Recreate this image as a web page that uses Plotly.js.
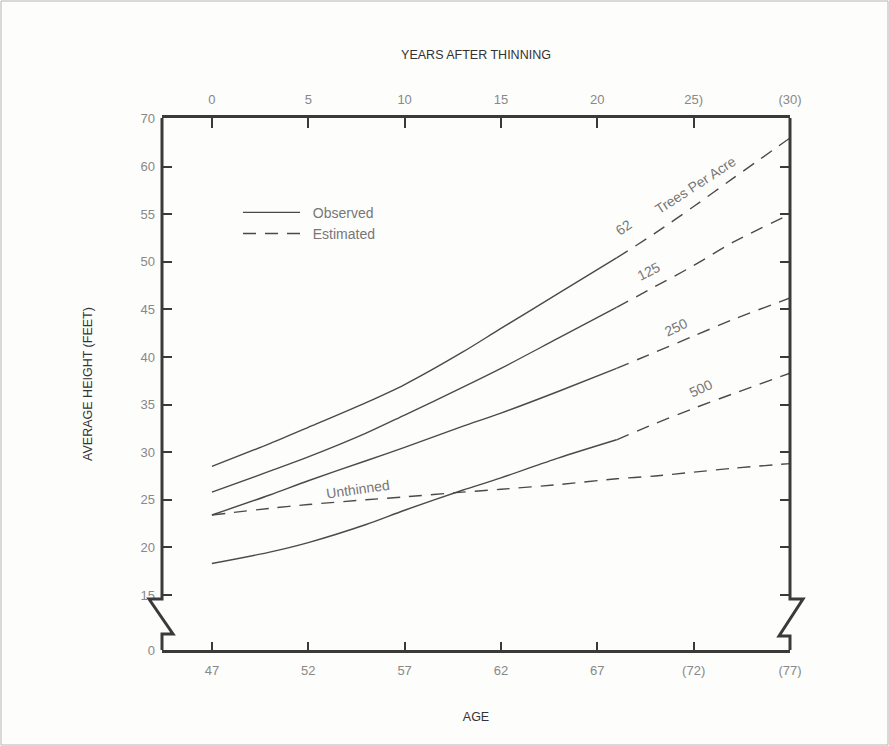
<!DOCTYPE html>
<html>
<head>
<meta charset="utf-8">
<script src="https://cdn.plot.ly/plotly-3.0.1.min.js"></script>
<style>html,body{margin:0;padding:0;background:#fdfdfb;}#chart{width:889px;height:746px;}</style>
</head>
<body>
<div id="chart"></div>
<script>
// Ages (years) for the observed and estimated parts of each curve
const agesObs = [47, 50, 52, 55, 57, 60, 62, 65, 68];
const agesEst = [68, 70, 72, 74, 77];
const agesUnthinned = [47, 50, 52, 55, 57, 60, 62, 65, 68, 70, 72, 74, 77];

// Average height (feet) by trees per acre
const tpa62Obs  = [28.5, 30.9, 32.6, 35.2, 37.1, 40.5, 43.0, 46.7, 50.4];
const tpa62Est  = [50.4, 53.0, 55.8, 58.7, 63.0];
const tpa125Obs = [25.8, 28.0, 29.5, 32.0, 33.9, 36.8, 38.8, 42.0, 45.2];
const tpa125Est = [45.2, 47.4, 49.6, 52.0, 55.0];
const tpa250Obs = [23.4, 25.5, 27.0, 29.1, 30.5, 32.7, 34.1, 36.4, 38.8];
const tpa250Est = [38.8, 40.5, 42.2, 43.9, 46.2];
const tpa500Obs = [18.3, 19.5, 20.5, 22.4, 23.9, 26.0, 27.3, 29.4, 31.3];
const tpa500Est = [31.3, 33.0, 34.6, 36.1, 38.3];
const unthinned = [23.4, 24.1, 24.5, 25.0, 25.3, 25.8, 26.1, 26.6, 27.2, 27.5, 27.9, 28.3, 28.8];

// Tick labels
const ageTicks = [47, 52, 57, 62, 67, 72, 77];
const ageTickText = ['47', '52', '57', '62', '67', '(72)', '(77)'];
const yearTicks = [0, 5, 10, 15, 20, 25, 30];
const yearTickText = ['0', '5', '10', '15', '20', '25)', '(30)'];
const heightTicks = [9.22, 15, 20, 25, 30, 35, 40, 45, 50, 55, 60, 65.1];
const heightTickText = ['0', '15', '20', '25', '30', '35', '40', '45', '50', '55', '60', '70'];

const lineCol = '#4a4a4a';
const obs = {color: lineCol, width: 1.4, shape: 'spline', smoothing: 0.8};
const est = {color: lineCol, width: 1.4, dash: '13px,9px', shape: 'spline', smoothing: 0.8};

function tr(x, y, line, extra) {
  return Object.assign({x: x, y: y, type: 'scatter', mode: 'lines', line: line,
    hoverinfo: 'skip', showlegend: false}, extra || {});
}

const traces = [
  tr(agesObs, tpa62Obs, obs), tr(agesEst, tpa62Est, est),
  tr(agesObs, tpa125Obs, obs), tr(agesEst, tpa125Est, est),
  tr(agesObs, tpa250Obs, obs), tr(agesEst, tpa250Est, est),
  tr(agesObs, tpa500Obs, obs), tr(agesEst, tpa500Est, est),
  tr(agesUnthinned, unthinned, est),
  tr([null], [null], {color: lineCol, width: 1.4}, {name: '\u00a0\u00a0Observed', showlegend: true}),
  tr([null], [null], {color: lineCol, width: 1.4, dash: '13px,9px'}, {name: '\u00a0\u00a0Estimated', showlegend: true}),
  tr([yearTicks[0], yearTicks[yearTicks.length - 1]], [null, null], obs, {xaxis: 'x2'})
];

const txtCol = '#777';
const tickFont = {family: 'Liberation Sans, Arial, sans-serif', size: 13, color: '#888'};
const titleFont = {family: 'Liberation Sans, Arial, sans-serif', size: 12.5, color: '#333'};
const labFont = {family: 'Liberation Sans, Arial, sans-serif', size: 14, color: txtCol};
const frameCol = '#3a3a3a';

// paper coordinate helpers (plot area 628 x 532 px)
const px = v => v / 628, py = v => v / 532;

const layout = {
  width: 889, height: 746,
  margin: {l: 162, r: 99, t: 118, b: 96},
  paper_bgcolor: '#fdfdfb', plot_bgcolor: '#fdfdfb',
  font: {family: 'Liberation Sans, Arial, sans-serif'},
  xaxis: {
    range: [44.41, 77], tickvals: ageTicks, ticktext: ageTickText,
    showgrid: false, zeroline: false, showline: true, linecolor: frameCol, linewidth: 3,
    ticks: 'inside', ticklen: 8, tickwidth: 2, tickcolor: frameCol,
    tickfont: tickFont, ticklabelstandoff: 6,
    title: {text: 'AGE', font: titleFont, standoff: 36}
  },
  xaxis2: {
    overlaying: 'x', side: 'top', anchor: 'y',
    range: [-2.59, 30], tickvals: yearTicks, ticktext: yearTickText,
    showgrid: false, zeroline: false, showline: true, linecolor: frameCol, linewidth: 3,
    ticks: 'inside', ticklen: 10, tickwidth: 2, tickcolor: frameCol,
    tickfont: tickFont, ticklabelstandoff: 6,
    title: {text: 'YEARS AFTER THINNING', font: titleFont, standoff: 30}
  },
  yaxis: {
    range: [9.22, 65.1], tickvals: heightTicks, ticktext: heightTickText,
    showgrid: false, zeroline: false, showline: false,
    ticks: 'inside', ticklen: 10, tickwidth: 2, tickcolor: frameCol, mirror: 'ticks',
    tickfont: tickFont, ticklabelstandoff: 6,
    title: {text: 'AVERAGE HEIGHT (FEET)', font: titleFont, standoff: 45}
  },
  showlegend: true,
  legend: {
    x: 0.121, y: 0.852, xanchor: 'left', yanchor: 'top',
    bgcolor: 'rgba(0,0,0,0)', borderwidth: 0,
    font: {family: 'Liberation Sans, Arial, sans-serif', size: 14, color: txtCol},
    itemwidth: 57, tracegroupgap: 0
  },
  shapes: [
    // left frame with axis break
    {type: 'path', xref: 'paper', yref: 'paper', line: {color: frameCol, width: 3},
     path: `M 0 1 L 0 ${py(51)} L ${px(-13)} ${py(51)} L ${px(11)} ${py(16)} L 0 ${py(16)} L 0 0`},
    // right frame with axis break
    {type: 'path', xref: 'paper', yref: 'paper', line: {color: frameCol, width: 3},
     path: `M 1 1 L 1 ${py(51)} L ${1 + px(13)} ${py(51)} L ${1 - px(11)} ${py(14)} L 1 ${py(14)} L 1 0`},
    // outer figure border
    {type: 'rect', xref: 'paper', yref: 'paper', line: {color: '#b5b5b5', width: 1},
     x0: px(-161), x1: px(726), y0: py(-95), y1: py(649)}
  ],
  annotations: [
    {x: 68.4, y: 53.6, text: '62', showarrow: false, textangle: -35, font: labFont},
    {x: 72.1, y: 58.05, text: 'Trees Per Acre', showarrow: false, textangle: -33, font: labFont},
    {x: 69.7, y: 49.0, text: '125', showarrow: false, textangle: -27, font: labFont},
    {x: 71.1, y: 43.2, text: '250', showarrow: false, textangle: -25, font: labFont},
    {x: 72.4, y: 36.75, text: '500', showarrow: false, textangle: -25, font: labFont},
    {x: 54.6, y: 26.1, text: 'Unthinned', showarrow: false, textangle: -8, font: labFont}
  ]
};

Plotly.newPlot('chart', traces, layout, {staticPlot: true, displayModeBar: false});
</script>
</body>
</html>
